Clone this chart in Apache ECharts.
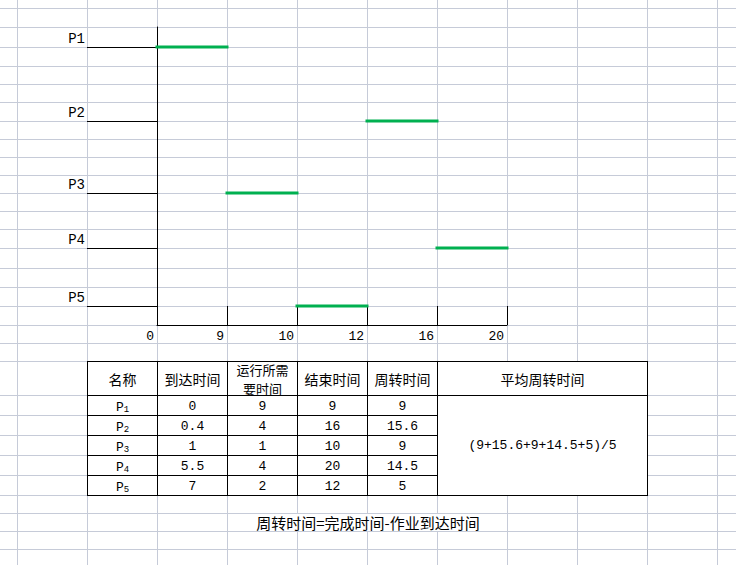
<!DOCTYPE html>
<html>
<head>
<meta charset="utf-8">
<script src="https://cdn.jsdelivr.net/npm/echarts@6/dist/echarts.min.js"></script>
<style>
html,body{margin:0;padding:0;background:#fff;}
#chart{width:736px;height:565px;}
</style>
</head>
<body>
<div id="chart"></div>
<script>
// ---------------- data ----------------
const processes = ['P1', 'P2', 'P3', 'P4', 'P5'];
const arrivalTimes = [0, 0.4, 1, 5.5, 7];
const runTimes = [9, 4, 1, 4, 2];
const finishTimes = [9, 16, 10, 20, 12];
const turnaroundTimes = [9, 15.6, 9, 14.5, 5];
const timeTicks = [0, 9, 10, 12, 16, 20];
// vertical position of each process row (in sheet rows below the axis top)
const rowPositions = [1.07, 5.05, 8.91, 11.87, 14.98];
const tableHeaders = ['名称', '到达时间', '运行所需\n要时间', '结束时间', '周转时间', '平均周转时间'];
const avgFormula = '(9+15.6+9+14.5+5)/5';
const footnote = '周转时间=完成时间-作业到达时间';

// ---------------- layout (sheet geometry) ----------------
const SHEET_COLS = [17, 87, 157, 227, 297, 367, 437, 507, 577, 647, 717];
const SHEET_ROWS = [8, 27, 47, 66, 84, 102, 121, 139, 157, 175, 193, 211, 229, 248, 268, 287, 306, 325, 343, 361, 395, 415, 435, 455, 475, 495, 513, 531, 549];
const TABLE_COLS = [87, 157, 227, 297, 367, 437, 647];
const TABLE_ROWS = [361, 395, 415, 435, 455, 475, 495];
const GRID_COLOR = '#c6cbd8';
const MONO = 'Liberation Mono';
const CJK = 'Noto Sans CJK SC';

const chart = echarts.init(document.getElementById('chart'), null, {renderer: 'svg'});

const segments = processes.map((p, i) => [
  timeTicks.indexOf(finishTimes[i] - runTimes[i]),
  timeTicks.indexOf(finishTimes[i]),
  rowPositions[i]
]);

const gfx = [];
// sheet grid lines
SHEET_COLS.forEach(x => gfx.push({type: 'line', z: -10, silent: true,
  shape: {x1: x + 0.5, y1: 0, x2: x + 0.5, y2: 565}, style: {stroke: GRID_COLOR, lineWidth: 1}}));
SHEET_ROWS.forEach(y => gfx.push({type: 'line', z: -10, silent: true,
  shape: {x1: 0, y1: y + 0.5, x2: 736, y2: y + 0.5}, style: {stroke: GRID_COLOR, lineWidth: 1}}));

// table background
const tL = TABLE_COLS[0], tR = TABLE_COLS[TABLE_COLS.length - 1];
const tT = TABLE_ROWS[0], tB = TABLE_ROWS[TABLE_ROWS.length - 1];
gfx.push({type: 'rect', z: 5, silent: true, shape: {x: tL, y: tT, width: tR - tL, height: tB - tT}, style: {fill: '#fff'}});
// table borders
const mergedLeft = TABLE_COLS[TABLE_COLS.length - 2];
TABLE_ROWS.forEach((y, r) => {
  const full = (r === 0 || r === 1 || r === TABLE_ROWS.length - 1);
  gfx.push({type: 'line', z: 6, silent: true,
    shape: {x1: tL, y1: y + 0.5, x2: full ? tR + 1 : mergedLeft, y2: y + 0.5}, style: {stroke: '#000', lineWidth: 1}});
});
TABLE_COLS.forEach(x => gfx.push({type: 'line', z: 6, silent: true,
  shape: {x1: x + 0.5, y1: tT, x2: x + 0.5, y2: tB + 1}, style: {stroke: '#000', lineWidth: 1}}));

// header texts (wrapped headers are split into separate lines)
const headCy = (TABLE_ROWS[0] + TABLE_ROWS[1]) / 2 + 1;
tableHeaders.forEach((h, c) => {
  const lines = h.split('\n');
  const step = 19;
  lines.forEach((ln, k) => {
    gfx.push({type: 'text', z: 7, silent: true, style: {
      text: ln, x: (TABLE_COLS[c] + TABLE_COLS[c + 1]) / 2 + 0.5,
      y: headCy + (k - (lines.length - 1) / 2) * step,
      align: 'center', verticalAlign: 'middle', fontFamily: CJK,
      fontSize: lines.length > 1 ? 13 : 14, fill: '#000'}});
  });
});
// body texts
const columns = [null, arrivalTimes, runTimes, finishTimes, turnaroundTimes];
processes.forEach((p, r) => {
  const cy = (TABLE_ROWS[r + 1] + TABLE_ROWS[r + 2]) / 2 + 1;
  gfx.push({type: 'text', z: 7, silent: true, style: {
    text: '{p|' + p.charAt(0) + '}{s|' + p.slice(1) + '}',
    x: (TABLE_COLS[0] + TABLE_COLS[1]) / 2 + 0.5, y: cy, align: 'center', verticalAlign: 'middle',
    rich: {
      p: {fontFamily: MONO, fontSize: 13, fill: '#000', lineHeight: 16, verticalAlign: 'bottom'},
      s: {fontFamily: MONO, fontSize: 9, fill: '#000', lineHeight: 16, verticalAlign: 'bottom', padding: [0, 0, 0, 0]}
    }}});
  for (let c = 1; c < columns.length; c++) {
    gfx.push({type: 'text', z: 7, silent: true, style: {
      text: String(columns[c][r]), x: (TABLE_COLS[c] + TABLE_COLS[c + 1]) / 2 + 0.5, y: cy,
      align: 'center', verticalAlign: 'middle', fontFamily: MONO, fontSize: 13, fill: '#000'}});
  }
});
// merged average cell
gfx.push({type: 'text', z: 7, silent: true, style: {
  text: avgFormula, x: (mergedLeft + tR) / 2 + 0.5, y: (TABLE_ROWS[1] + tB) / 2,
  align: 'center', verticalAlign: 'middle', fontFamily: MONO, fontSize: 13, fill: '#000'}});
// footnote
gfx.push({type: 'rect', z: 5, silent: true, shape: {x: 250, y: 514, width: 236, height: 17}, style: {fill: '#fff'}});
gfx.push({type: 'text', z: 7, silent: true, style: {
  text: footnote, x: 368, y: 522.5, align: 'center', verticalAlign: 'middle',
  fontFamily: CJK, fontSize: 15, fill: '#000'}});

const option = {
  animation: false,
  backgroundColor: '#fff',
  grid: {left: 157, top: 27, width: 350, height: 298, containLabel: false, outerBoundsMode: 'none'},
  xAxis: {
    type: 'value', min: 0, max: timeTicks.length - 1, interval: 1,
    axisLine: {show: true, onZero: false, lineStyle: {color: '#000', width: 1}},
    axisTick: {show: true, inside: true, length: 19, lineStyle: {color: '#000', width: 1}},
    axisLabel: {
      formatter: v => String(timeTicks[Math.round(v)]),
      align: 'right', padding: [0, 3, 0, 0], margin: 5,
      color: '#000', fontFamily: MONO, fontSize: 13
    },
    splitLine: {show: false}
  },
  yAxis: {
    type: 'value', min: 0, max: 16, inverse: true,
    axisLine: {show: true, onZero: false, lineStyle: {color: '#000', width: 1}},
    axisTick: {show: true, length: 70, customValues: rowPositions, lineStyle: {color: '#000', width: 1}},
    axisLabel: {
      customValues: rowPositions,
      formatter: v => {
        let best = 0;
        rowPositions.forEach((r, i) => { if (Math.abs(r - v) < Math.abs(rowPositions[best] - v)) best = i; });
        return processes[best];
      },
      verticalAlign: 'bottom', margin: 72, padding: [0, 0, 1, 0],
      color: '#000', fontFamily: MONO, fontSize: 14
    },
    splitLine: {show: false}
  },
  graphic: {elements: gfx},
  series: [{
    type: 'custom',
    silent: true,
    clip: false,
    encode: {x: [0, 1], y: 2},
    data: segments,
    renderItem: (params, api) => {
      const a = api.coord([api.value(0), api.value(2)]);
      const b = api.coord([api.value(1), api.value(2)]);
      return {type: 'line', shape: {x1: a[0], y1: a[1], x2: b[0], y2: b[1]},
        style: {stroke: '#00B050', lineWidth: 3, lineCap: 'square'}};
    }
  }]
};
chart.setOption(option);
</script>
</body>
</html>
